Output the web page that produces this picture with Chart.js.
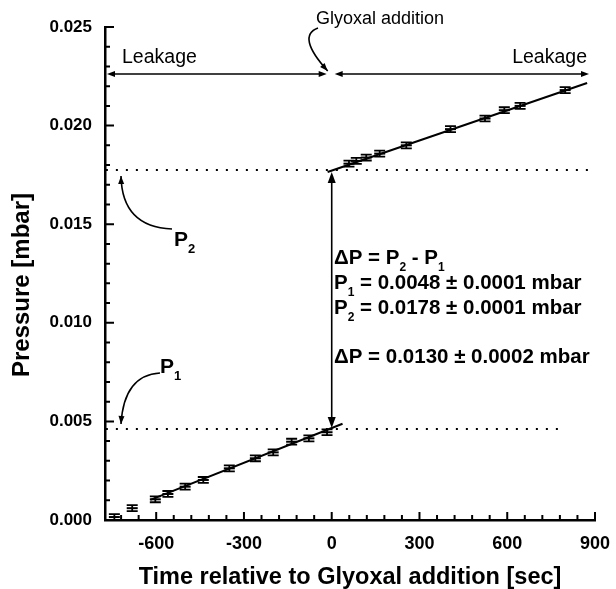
<!DOCTYPE html>
<html><head><meta charset="utf-8">
<script src="https://cdn.jsdelivr.net/npm/chart.js@4.4.0/dist/chart.umd.min.js"></script>
<style>html,body{margin:0;padding:0;background:#fff}#wrap{width:616px;height:589px;position:relative}</style>
</head><body><div id="wrap"><canvas id="c" width="616" height="589"></canvas></div>
<script>
// ---- data ----
const beforeTime = [-743, -682, -603, -560, -501, -439, -350, -261, -200, -137, -78, -16];
const beforeP    = [0.00015, 0.0006, 0.00105, 0.00132, 0.00169, 0.00203, 0.00262, 0.00313, 0.00343, 0.00397, 0.00414, 0.00445];
const afterTime  = [59, 84, 118, 164, 255, 406, 524, 590, 644, 798];
const afterP     = [0.01807, 0.01821, 0.01838, 0.01858, 0.01900, 0.01982, 0.02036, 0.02078, 0.02100, 0.02180];
const pErr = 0.00015;
const fitBeforeTime = [-620, 37];
const fitBeforeP    = [0.00102, 0.00488];
const fitAfterTime  = [-14, 873];
const fitAfterP     = [0.01765, 0.02216];
const p1Level = 0.00462;
const p2Level = 0.01775;
const p1LineTime = [-772, 795];
const p2LineTime = [-772, 900];
const xTicks = [-600, -300, 0, 300, 600, 900];
const yTicks = [0, 0.005, 0.010, 0.015, 0.020, 0.025];
const xMinorStep = 60, yMinorStep = 0.001;
const yTitle = 'Pressure [mbar]';

const FONT = '"Liberation Sans", Arial, sans-serif';
const pts = (xs, ys) => xs.map((x, i) => ({x, y: ys[i]}));

const errorBars = {
  id: 'errorBars',
  afterDatasetsDraw(chart) {
    const ctx = chart.ctx, ys = chart.scales.y;
    chart.data.datasets.forEach((ds, di) => {
      if (!ds.errBars) return;
      const meta = chart.getDatasetMeta(di);
      ctx.save();
      ctx.strokeStyle = '#000';
      ctx.lineWidth = 1.8;
      meta.data.forEach((el, i) => {
        const v = ds.data[i].y;
        const yt = ys.getPixelForValue(v + pErr), yb = ys.getPixelForValue(v - pErr);
        ctx.beginPath();
        ctx.moveTo(el.x, yt); ctx.lineTo(el.x, yb);
        ctx.moveTo(el.x - 5.5, yt); ctx.lineTo(el.x + 5.5, yt);
        ctx.moveTo(el.x - 5.5, yb); ctx.lineTo(el.x + 5.5, yb);
        ctx.stroke();
      });
      ctx.restore();
    });
  }
};

function arrowHead(ctx, x, y, ang, len, hw) {
  ctx.beginPath();
  ctx.moveTo(x, y);
  ctx.lineTo(x - len * Math.cos(ang) + hw * Math.sin(ang), y - len * Math.sin(ang) - hw * Math.cos(ang));
  ctx.lineTo(x - len * Math.cos(ang) - hw * Math.sin(ang), y - len * Math.sin(ang) + hw * Math.cos(ang));
  ctx.closePath();
  ctx.fill();
}
function curveArrow(ctx, s, c, t) {
  ctx.beginPath();
  ctx.moveTo(s[0], s[1]);
  ctx.quadraticCurveTo(c[0], c[1], t[0], t[1]);
  ctx.stroke();
  arrowHead(ctx, t[0], t[1], Math.atan2(t[1] - c[1], t[0] - c[0]), 8, 3);
}
function rich(ctx, x, y, parts, size) {
  let cx = x;
  parts.forEach(([txt, kind]) => {
    if (kind === 's') {
      ctx.font = 'bold ' + Math.round(size * 0.6) + 'px ' + FONT;
      ctx.fillText(txt, cx, y + size * 0.45);
    } else {
      ctx.font = 'bold ' + size + 'px ' + FONT;
      ctx.fillText(txt, cx, y);
    }
    cx += ctx.measureText(txt).width;
  });
}

const decor = {
  id: 'decor',
  afterDraw(chart) {
    const ctx = chart.ctx, xs = chart.scales.x, ys = chart.scales.y;
    const a = chart.chartArea;
    ctx.save();
    ctx.strokeStyle = '#000'; ctx.fillStyle = '#000';
    // inward ticks
    ctx.lineWidth = 2;
    ctx.beginPath();
    for (let v = -720; v <= 900 + 1e-9; v += xMinorStep) {
      if (v < xs.min) continue;
      const px = xs.getPixelForValue(v);
      const major = xTicks.some(t => Math.abs(t - v) < 1e-6);
      ctx.moveTo(px, a.bottom); ctx.lineTo(px, a.bottom - (major ? 8 : 5));
    }
    for (let k = 0; k <= 25; k++) {
      const v = k * yMinorStep;
      const py = ys.getPixelForValue(v);
      const major = k % 5 === 0;
      ctx.moveTo(a.left, py); ctx.lineTo(a.left + (major ? 9 : 5), py);
    }
    ctx.stroke();

    // y-axis title
    ctx.save();
    ctx.translate(22, 285);
    ctx.rotate(-Math.PI / 2);
    ctx.textAlign = 'center'; ctx.textBaseline = 'middle';
    ctx.font = 'bold 24px ' + FONT;
    ctx.fillText(yTitle, 0, 0);
    ctx.restore();

    // vertical double arrow at t = 0 between P1 and P2
    const x0 = xs.getPixelForValue(0);
    const yA = ys.getPixelForValue(p1Level) - 1, yB = ys.getPixelForValue(p2Level) + 2;
    ctx.lineWidth = 1.6;
    ctx.beginPath(); ctx.moveTo(x0, yA - 6); ctx.lineTo(x0, yB + 6); ctx.stroke();
    arrowHead(ctx, x0, yA, Math.PI / 2, 11, 4);
    arrowHead(ctx, x0, yB, -Math.PI / 2, 11, 4);

    // leakage arrows
    const yL = 74;
    ctx.lineWidth = 1.4;
    [[107, x0 - 5], [x0 + 3, 589]].forEach(([l, r]) => {
      ctx.beginPath(); ctx.moveTo(l + 4, yL); ctx.lineTo(r - 4, yL); ctx.stroke();
      arrowHead(ctx, l, yL, Math.PI, 8, 3);
      arrowHead(ctx, r, yL, 0, 8, 3);
    });

    // curved arrows
    ctx.lineWidth = 1.6;
    curveArrow(ctx, [318, 28], [296, 36], [x0 - 4, 71]);
    curveArrow(ctx, [172, 229], [122, 227], [121, 176]);
    curveArrow(ctx, [160, 373], [124, 375], [121, 424]);

    // texts
    ctx.textBaseline = 'middle';
    ctx.textAlign = 'left';
    ctx.font = '18px ' + FONT;
    ctx.fillText('Glyoxal addition', 316, 19);
    ctx.font = '19.5px ' + FONT;
    ctx.fillText('Leakage', 122, 58);
    ctx.textAlign = 'right';
    ctx.fillText('Leakage', 587, 58);
    ctx.textAlign = 'left';
    rich(ctx, 174, 240, [['P', 'n'], ['2', 's']], 21);
    rich(ctx, 160, 367, [['P', 'n'], ['1', 's']], 21);
    const tx = 334;
    rich(ctx, tx, 258, [['\u0394P = P', 'n'], ['2', 's'], [' - P', 'n'], ['1', 's']], 20.5);
    rich(ctx, tx, 283, [['P', 'n'], ['1', 's'], [' = 0.0048 \u00b1 0.0001 mbar', 'n']], 20.5);
    rich(ctx, tx, 308, [['P', 'n'], ['2', 's'], [' = 0.0178 \u00b1 0.0001 mbar', 'n']], 20.5);
    rich(ctx, tx, 357, [['\u0394P = 0.0130 \u00b1 0.0002 mbar', 'n']], 20.5);
    ctx.restore();
  }
};

const markerDs = (data) => ({
  data, errBars: true, showLine: false, pointStyle: 'line', pointRadius: 5.5,
  borderColor: '#000', backgroundColor: '#000', borderWidth: 2, pointHoverRadius: 5.5
});
const lineDs = (data, dash) => ({
  data, showLine: true, pointRadius: 0, borderColor: '#000', borderWidth: 2,
  borderDash: dash || [], fill: false, tension: 0
});

new Chart(document.getElementById('c'), {
  type: 'scatter',
  data: {
    datasets: [
      lineDs(pts(p1LineTime, [p1Level, p1Level]), [2, 8]),
      lineDs(pts(p2LineTime, [p2Level, p2Level]), [2, 8]),
      lineDs(pts(fitBeforeTime, fitBeforeP)),
      lineDs(pts(fitAfterTime, fitAfterP)),
      markerDs(pts(beforeTime, beforeP)),
      markerDs(pts(afterTime, afterP))
    ]
  },
  options: {
    responsive: false, animation: false, devicePixelRatio: 1,
    layout: {padding: {top: 27, right: 0, left: 0, bottom: 0}},
    plugins: {legend: {display: false}, tooltip: {enabled: false}},
    scales: {
      x: {
        type: 'linear', min: -775, max: 900,
        afterBuildTicks: (s) => { s.ticks = xTicks.map(v => ({value: v})); },
        afterFit: (s) => { s.height = 69; s.paddingRight = 21; s.paddingLeft = 0; },
        grid: {display: false, drawTicks: false},
        border: {display: true, width: 2.5, color: '#000'},
        ticks: {color: '#000', font: {family: FONT, size: 18, weight: 'bold'}, padding: 13, maxRotation: 0,
                callback: (v) => String(v)},
        title: {display: true, text: 'Time relative to Glyoxal addition [sec]', color: '#000',
                font: {family: FONT, size: 23.5, weight: 'bold', lineHeight: 0.95}, padding: {top: 4, bottom: 0}}
      },
      y: {
        type: 'linear', min: 0, max: 0.025,
        afterBuildTicks: (s) => { s.ticks = yTicks.map(v => ({value: v})); },
        afterFit: (s) => { s.width = 105; },
        grid: {display: false, drawTicks: false},
        border: {display: true, width: 2.5, color: '#000'},
        ticks: {color: '#000', font: {family: FONT, size: 17, weight: 'bold'}, padding: 13,
                callback: (v) => Number(v).toFixed(3)},
        title: {display: false}
      }
    }
  },
  plugins: [errorBars, decor]
});
</script></body></html>
